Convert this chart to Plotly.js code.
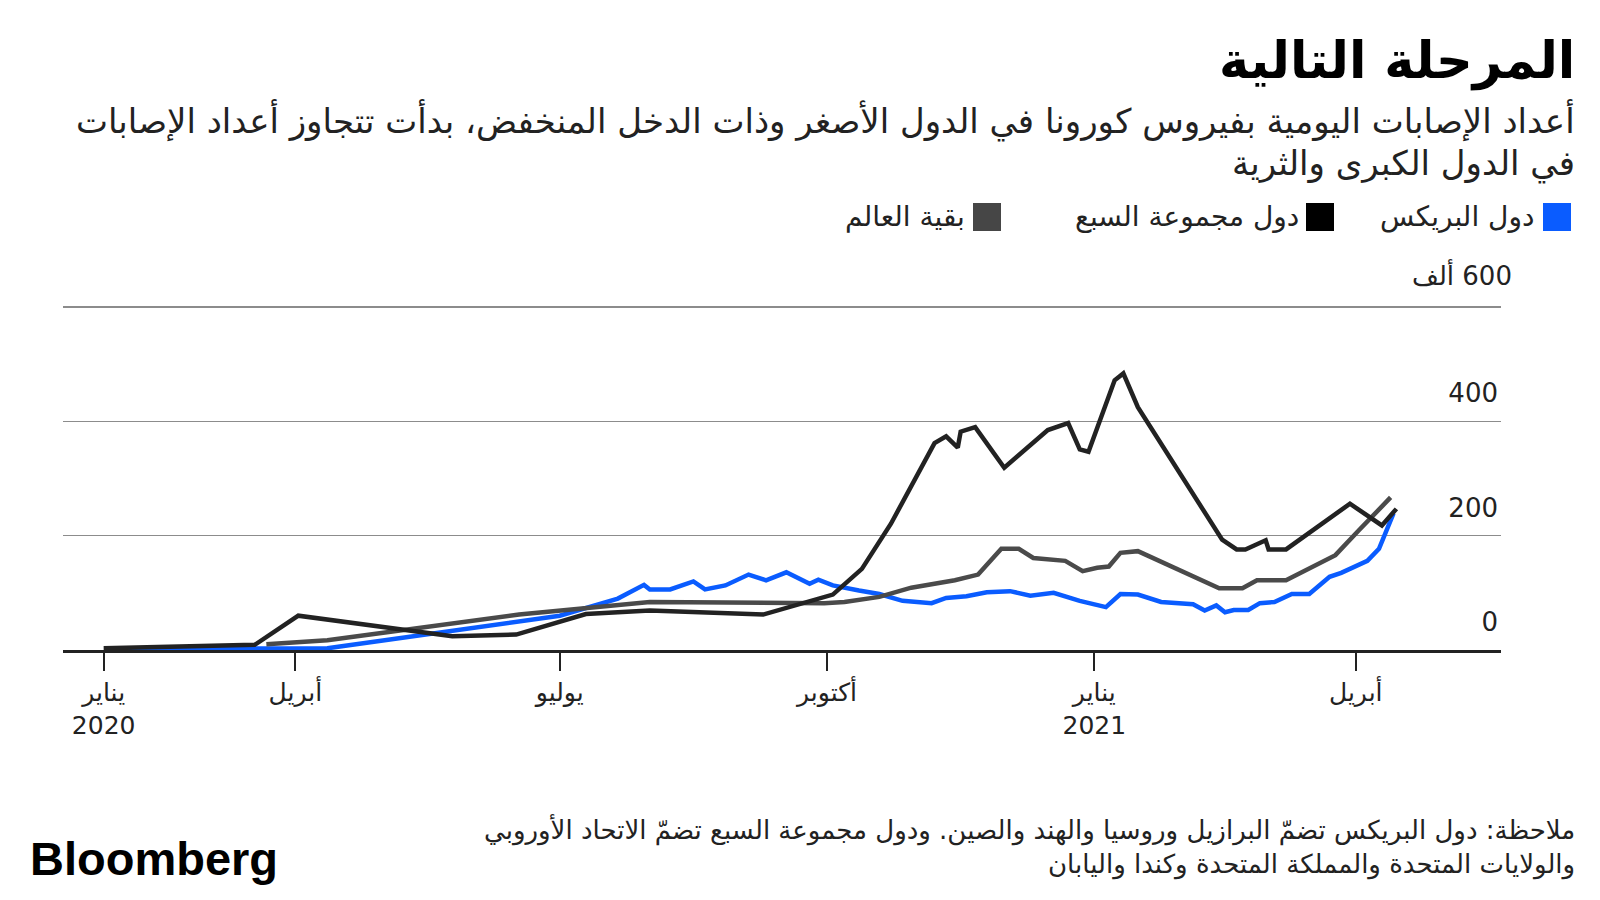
<!DOCTYPE html>
<html>
<head>
<meta charset="utf-8">
<script src="https://cdn.plot.ly/plotly-3.0.1.min.js"></script>
<style>
html,body{margin:0;padding:0;background:#fff;}
#chart{width:1600px;height:900px;}
</style>
</head>
<body>
<div id="chart"></div>
<script>
// ---- Data (thousands of daily cases) ----
const seriesNames = ['دول البريكس', 'دول مجموعة السبع', 'بقية العالم'];

const bricsDates = ['2020-01-31','2020-04-12','2020-07-01','2020-07-10','2020-07-21','2020-07-30','2020-08-01','2020-08-08','2020-08-16','2020-08-20','2020-08-27','2020-09-04','2020-09-10','2020-09-17','2020-09-25','2020-09-28','2020-10-03','2020-10-12','2020-10-19','2020-10-27','2020-11-06','2020-11-11','2020-11-18','2020-11-25','2020-12-03','2020-12-10','2020-12-18','2020-12-27','2021-01-05','2021-01-10','2021-01-16','2021-01-24','2021-02-04','2021-02-08','2021-02-12','2021-02-15','2021-02-18','2021-02-23','2021-02-27','2021-03-04','2021-03-08','2021-03-10','2021-03-16','2021-03-23','2021-03-27','2021-04-05','2021-04-09','2021-04-12','2021-04-14'];
const bricsValues = [2,3,60,74,90,114,106,106,120,106,113,132,122,136,116,123,113,104,98,86,82,91,94,101,103,95,100,86,75,98,97,84,80,69,78,66,70,70,82,84,94,98,98,128,135,156,177,215,239];

const g7Dates = ['2020-01-26','2020-03-18','2020-04-02','2020-05-25','2020-06-16','2020-07-10','2020-08-01','2020-09-09','2020-10-03','2020-10-13','2020-10-23','2020-11-07','2020-11-11','2020-11-15','2020-11-16','2020-11-21','2020-12-01','2020-12-16','2020-12-23','2020-12-27','2020-12-30','2021-01-08','2021-01-11','2021-01-16','2021-02-14','2021-02-19','2021-02-22','2021-03-01','2021-03-02','2021-03-08','2021-03-30','2021-04-10','2021-04-15'];
const g7Values = [3,9,60,24,27,63,69,62,97,142,221,362,374,354,382,390,319,385,397,351,347,472,484,425,193,176,176,192,176,176,256,218,247];

const restDates = ['2020-03-22','2020-04-12','2020-06-17','2020-07-08','2020-08-01','2020-09-30','2020-10-07','2020-10-19','2020-10-30','2020-11-14','2020-11-22','2020-11-30','2020-12-06','2020-12-11','2020-12-22','2020-12-28','2021-01-02','2021-01-06','2021-01-10','2021-01-16','2021-02-13','2021-02-21','2021-02-26','2021-03-08','2021-03-25','2021-04-02','2021-04-13'];
const restValues = [10,17,62,72,84,82,84,93,109,122,132,177,177,161,156,138,144,146,170,173,108,108,122,122,166,209,267];

const xTickVals = ['2020-01-26','2020-04-01','2020-07-01','2020-10-01','2021-01-01','2021-04-01'];
const xTickText = ['يناير<br>2020','أبريل','يوليو','أكتوبر','يناير<br>2021','أبريل'];
const yTickVals = [0,200,400,600];
const yTickText = ['0','200','400','\u202B600 ألف\u202C'];

const titleText = 'المرحلة التالية';
const subtitleLines = [
  'أعداد الإصابات اليومية بفيروس كورونا في الدول الأصغر وذات الدخل المنخفض، بدأت تتجاوز أعداد الإصابات',
  'في الدول الكبرى والثرية'
];
const noteLines = [
  'ملاحظة: دول البريكس تضمّ البرازيل وروسيا والهند والصين. ودول مجموعة السبع تضمّ الاتحاد الأوروبي',
  'والولايات المتحدة والمملكة المتحدة وكندا واليابان'
];
const sourceText = 'Bloomberg';

// ---- Styling ----
const colors = ['#0a5cff', '#222222', '#4a4a4a'];
const legendColors = ['#0a5cff', '#000000', '#464646'];
const FONT = '"DejaVu Sans", sans-serif';

// plot area in pixels (y range 0..700, 600 gridline lands at ~307px)
const L = 63, R = 1501, T = 250, B = 650;
const W = 1600, H = 900;
const px = x => (x - L) / (R - L);
const py = y => (B - y) / (B - T);

const traces = [
  {x: bricsDates, y: bricsValues, name: seriesNames[0], line: {color: colors[0], width: 4.5}},
  {x: restDates, y: restValues, name: seriesNames[2], line: {color: colors[2], width: 4.5}},
  {x: g7Dates, y: g7Values, name: seriesNames[1], line: {color: colors[1], width: 4.5}}
].map(t => Object.assign({type: 'scatter', mode: 'lines', hoverinfo: 'skip', showlegend: false}, t));

const ann = [];
ann.push({text: '<b>' + titleText + '</b>', x: px(1577), y: py(61), xanchor: 'right', yanchor: 'middle',
  font: {size: 51, color: '#000'}});
ann.push({text: subtitleLines[0], x: px(1577), y: py(120), xanchor: 'right', yanchor: 'middle',
  font: {size: 34, color: '#222'}});
ann.push({text: subtitleLines[1], x: px(1577), y: py(163), xanchor: 'right', yanchor: 'middle',
  font: {size: 34, color: '#222'}});

// legend (right-to-left)
const legTextRight = [1536, 1301, 967];
const legBoxLeft = [1543, 1306, 973];
const legOrder = [0, 1, 2];
const shapes = [];
legOrder.forEach((k, i) => {
  ann.push({text: seriesNames[k], x: px(legTextRight[i]), y: py(216), xanchor: 'right', yanchor: 'middle',
    font: {size: 28, color: '#222'}});
  shapes.push({type: 'rect', xref: 'paper', yref: 'paper', x0: px(legBoxLeft[i]), x1: px(legBoxLeft[i] + 28),
    y0: py(231), y1: py(203), fillcolor: legendColors[k], line: {width: 0}});
});

ann.push({text: noteLines[0], x: px(1577), y: py(829), xanchor: 'right', yanchor: 'middle',
  font: {size: 26, color: '#222'}});
ann.push({text: noteLines[1], x: px(1577), y: py(864), xanchor: 'right', yanchor: 'middle',
  font: {size: 26, color: '#222'}});
ann.push({text: '<b>' + sourceText + '</b>', x: px(28), y: py(858), xanchor: 'left', yanchor: 'middle',
  font: {size: 47, color: '#000', family: 'Liberation Sans, Arial, sans-serif'}});
ann.forEach(a => { a.xref = 'paper'; a.yref = 'paper'; a.showarrow = false; });

// top y-axis label (with unit) sits further right than the others in the reference
ann.push({text: yTickText[3], xref: 'paper', yref: 'y', x: px(1514), y: yTickVals[3],
  xanchor: 'right', yanchor: 'middle', yshift: 33, showarrow: false,
  font: {size: 26, color: '#222'}});

const layout = {
  width: W, height: H,
  margin: {l: L, r: W - R, t: T, b: H - B, pad: 0},
  paper_bgcolor: '#fff', plot_bgcolor: '#fff',
  font: {family: FONT, color: '#222'},
  showlegend: false,
  xaxis: {
    type: 'date', range: ['2020-01-12', '2021-05-21'],
    showgrid: false, zeroline: false,
    showline: true, linecolor: '#222', linewidth: 3,
    ticks: 'outside', ticklen: 18, tickwidth: 2, tickcolor: '#222',
    tickmode: 'array', tickvals: xTickVals, ticktext: xTickText,
    tickfont: {size: 25, color: '#222'}
  },
  yaxis: {
    range: [0, 700], side: 'right',
    showgrid: true, gridcolor: '#8c8c8c', gridwidth: 1.5,
    zeroline: false, showline: false, ticks: '',
    tickmode: 'array', tickvals: yTickVals,
    ticktext: yTickText.slice(0, 3).concat(['']),
    ticklabelposition: 'inside top', ticklabelshift: -10,
    tickfont: {size: 26, color: '#222'}
  },
  annotations: ann,
  shapes: shapes
};

Plotly.newPlot('chart', traces, layout, {displayModeBar: false, staticPlot: true});
</script>
</body>
</html>
